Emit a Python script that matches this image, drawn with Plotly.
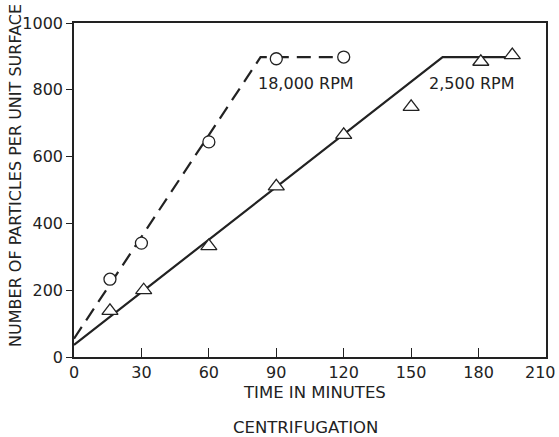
import plotly.graph_objects as go

# 18,000 RPM (circles, dashed fit)
t_18k = [16, 30, 60, 90, 120]
n_18k = [233, 341, 644, 893, 898]
fit_18k_t = [0, 83, 120]
fit_18k_n = [55, 898, 898]

# 2,500 RPM (triangles, solid fit)
t_2k5 = [16, 31, 60, 90, 120, 150, 181, 195]
n_2k5 = [138, 200, 332, 511, 665, 749, 884, 904]
fit_2k5_t = [0, 164, 195]
fit_2k5_n = [36, 898, 898]

x_ticks = [0, 30, 60, 90, 120, 150, 180, 210]
x_tick_labels = ["0", "30", "60", "90", "120", "150", "180", "210"]
y_ticks = [0, 200, 400, 600, 800, 1000]

ink = "#222222"
font = "DejaVu Sans"

fig = go.Figure()
fig.add_trace(go.Scatter(x=fit_18k_t, y=fit_18k_n, mode="lines",
                         line=dict(color=ink, width=2.2, dash="14px,8px"), showlegend=False))
fig.add_trace(go.Scatter(x=fit_2k5_t, y=fit_2k5_n, mode="lines",
                         line=dict(color=ink, width=2.2), showlegend=False))
fig.add_trace(go.Scatter(x=t_18k, y=n_18k, mode="markers",
                         marker=dict(symbol="circle", size=12, color="white",
                                     line=dict(width=1.3, color=ink)),
                         showlegend=False))
fig.add_trace(go.Scatter(x=t_2k5, y=n_2k5, mode="markers",
                         marker=dict(symbol="triangle-up", size=14, color="white",
                                     line=dict(width=1.3, color=ink)),
                         showlegend=False))

fig.add_annotation(x=103, y=820, text="18,000 RPM", showarrow=False,
                   font=dict(family=font, size=16, color=ink))
fig.add_annotation(x=177, y=820, text="2,500 RPM", showarrow=False,
                   font=dict(family=font, size=16, color=ink))
fig.add_annotation(x=0.51, y=-0.105, xref="paper", yref="paper", text="TIME IN MINUTES",
                   showarrow=False, yanchor="middle",
                   font=dict(family=font, size=16.5, color=ink))
fig.add_annotation(x=0.49, y=-0.21, xref="paper", yref="paper", text="CENTRIFUGATION",
                   showarrow=False, yanchor="middle",
                   font=dict(family=font, size=16.5, color=ink))
fig.add_annotation(x=-0.123, y=0.545, xref="paper", yref="paper",
                   text="NUMBER OF PARTICLES PER UNIT SURFACE", textangle=-90,
                   showarrow=False, xanchor="center", yanchor="middle",
                   font=dict(family=font, size=16, color=ink))
# last x tick label sits at the paper edge, so draw it as text
fig.add_annotation(x=x_ticks[-1], y=0, yref="paper", text=x_tick_labels[-1], showarrow=False,
                   xanchor="right", xshift=12, yanchor="top", yshift=-4,
                   font=dict(family=font, size=16, color=ink))

fig.update_xaxes(range=[0, 210], tickvals=x_ticks, ticktext=x_tick_labels[:-1] + [""],
                 ticks="inside", ticklen=9, tickcolor=ink,
                 showline=True, linecolor=ink, linewidth=1.5, mirror=True, showgrid=False,
                 zeroline=False, automargin=False, tickfont=dict(family=font, size=16, color=ink))
fig.update_yaxes(range=[0, 1000], tickvals=y_ticks, ticks="outside", ticklen=6, tickcolor=ink,
                 showline=True, linecolor=ink, linewidth=1.5, mirror=True, showgrid=False,
                 zeroline=False, automargin=False, tickfont=dict(family=font, size=16, color=ink))

fig.update_layout(width=559, height=437, margin=dict(l=74, r=13, t=23, b=80),
                  paper_bgcolor="white", plot_bgcolor="white")
fig.write_html("out.html")
